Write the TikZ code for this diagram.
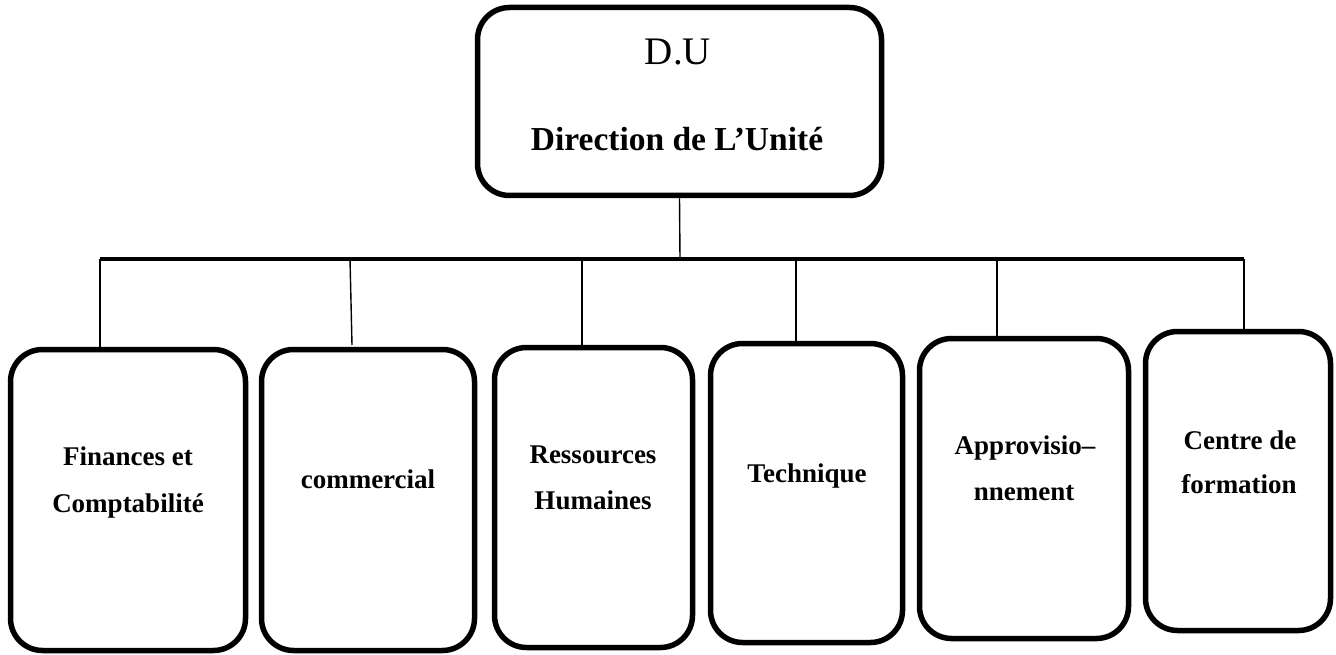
\documentclass[tikz,border=0pt]{standalone}
\usepackage{fontspec}
\setmainfont{Liberation Serif}
\begin{document}
\begin{tikzpicture}[x=1pt,y=-1pt,
  box/.style={draw=black,line width=5.5pt,rounded corners=32pt,fill=white,inner sep=0pt},
  lbl/.style={anchor=base,inner sep=0pt,font=\bfseries\fontsize{27}{32}\selectfont},
  link/.style={draw=black,line width=1.4pt},
  bus/.style={draw=black,line width=4.5pt}]
\useasboundingbox (0,0) rectangle (1336,655);

% junctions on the horizontal bus
\coordinate (jtop) at (680,259);
\coordinate (j1) at (100,259);
\coordinate (j2) at (350,259);
\coordinate (j3) at (582,259);
\coordinate (j4) at (796,259);
\coordinate (j5) at (997,259);
\coordinate (j6) at (1244,259);

% department boxes
\node[box,minimum width=235pt,minimum height=301pt] (b1) at (128,500) {};
\node[box,minimum width=213pt,minimum height=301pt] (b2) at (368,500) {};
\node[box,minimum width=198pt,minimum height=300pt] (b3) at (593.5,497.5) {};
\node[box,minimum width=192pt,minimum height=299pt] (b4) at (806.5,493) {};
\node[box,minimum width=209pt,minimum height=300pt] (b5) at (1024,488.5) {};
\node[box,minimum width=185pt,minimum height=299pt] (b6) at (1238,481) {};

% head box
\node[box,minimum width=404pt,minimum height=188pt] (du) at (679.5,101.5) {};
\node[anchor=base,inner sep=0pt,font=\fontsize{39}{46}\selectfont] (dut) at (678,65) {D.U};
\node[anchor=base,inner sep=0pt,font=\bfseries\fontsize{33.5}{40}\selectfont] (dud) at (677,151) {Direction de L’Unité};

% connectors
\draw[link] (du.south) -- (jtop);
\draw[bus] (j1) -- (j6);
\draw[link] (j1) -- (j1 |- b1.north);
\draw[link] (j2) -- (352,345);
\draw[link] (j3) -- (j3 |- b3.north);
\draw[link] (j4) -- (j4 |- b4.north);
\draw[link] (j5) -- (j5 |- b5.north);
\draw[link] (j6) -- (j6 |- b6.north);

% department labels
\node[lbl] (l1a) at (128,465) {Finances et};
\node[lbl] (l1b) at (128,512) {Comptabilité};
\node[lbl] (l2) at (368,488) {commercial};
\node[lbl] (l3a) at (593,463) {Ressources};
\node[lbl] (l3b) at (593,509) {Humaines};
\node[lbl] (l4) at (807,482) {Technique};
\node[lbl] (l5a) at (1025,454) {Approvisio–};
\node[lbl] (l5b) at (1024,500) {nnement};
\node[lbl] (l6a) at (1240,449) {Centre de};
\node[lbl] (l6b) at (1239,493) {formation};
\end{tikzpicture}
\end{document}
